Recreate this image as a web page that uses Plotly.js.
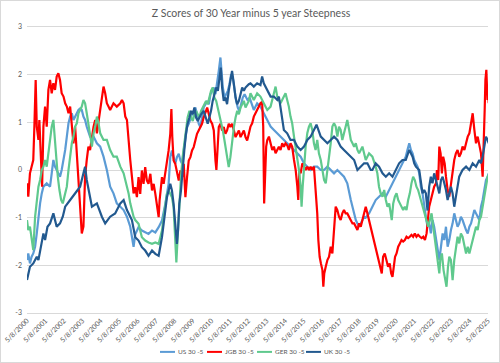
<!DOCTYPE html>
<html>
<head>
<meta charset="utf-8">
<script src="https://cdn.plot.ly/plotly-3.0.1.min.js"></script>
<style>
  html, body { margin: 0; padding: 0; background: #ffffff; }
  #wrap { position: relative; width: 500px; height: 363px; }
  #chart { width: 500px; height: 363px; }
  #frame { position: absolute; left: 0; top: 0; width: 500px; height: 363px;
           box-sizing: border-box; border: 1px solid #d9d9d9; pointer-events: none; }
</style>
</head>
<body>
<div id="wrap">
  <div id="chart"></div>
  <div id="frame"></div>
</div>
<script>
// Z scores of the 30y minus 5y curve steepness, by market (x = decimal year)
const usYears = [2000.35,2000.42,2000.51,2000.60,2000.69,2000.79,2000.88,2000.97,2001.06,2001.15,2001.24,2001.42,2001.60,2001.69,2001.78,2001.87,2001.96,2002.05,2002.14,2002.23,2002.33,2002.42,2002.51,2002.60,2002.69,2002.78,2002.87,2002.96,2003.05,2003.14,2003.23,2003.32,2003.41,2003.50,2003.59,2003.77,2003.96,2004.14,2004.32,2004.50,2004.68,2004.86,2005.04,2005.22,2005.41,2005.59,2005.77,2005.95,2006.04,2006.13,2006.22,2006.40,2006.58,2006.76,2006.94,2007.13,2007.31,2007.49,2007.67,2007.85,2007.94,2008.03,2008.12,2008.21,2008.30,2008.39,2008.48,2008.58,2008.67,2008.76,2008.85,2008.94,2009.03,2009.12,2009.21,2009.30,2009.39,2009.48,2009.57,2009.66,2009.75,2009.84,2009.93,2010.03,2010.12,2010.21,2010.30,2010.39,2010.48,2010.57,2010.66,2010.75,2010.84,2010.89,2010.97,2011.06,2011.15,2011.24,2011.33,2011.42,2011.51,2011.60,2011.69,2011.78,2011.87,2011.96,2012.05,2012.15,2012.24,2012.33,2012.42,2012.65,2012.83,2013.01,2013.19,2013.38,2013.56,2013.74,2013.92,2014.10,2014.28,2014.46,2014.64,2014.83,2015.01,2015.19,2015.37,2015.55,2015.73,2015.91,2016.09,2016.28,2016.46,2016.64,2016.82,2017.00,2017.18,2017.36,2017.54,2017.72,2017.82,2017.91,2018.00,2018.09,2018.18,2018.27,2018.36,2018.45,2018.54,2018.63,2018.72,2018.90,2019.08,2019.26,2019.44,2019.63,2019.81,2019.99,2020.17,2020.35,2020.53,2020.71,2020.89,2020.98,2021.08,2021.17,2021.26,2021.35,2021.44,2021.53,2021.62,2021.71,2021.80,2021.89,2021.98,2022.07,2022.16,2022.25,2022.34,2022.43,2022.53,2022.62,2022.71,2022.80,2022.89,2022.98,2023.07,2023.16,2023.25,2023.34,2023.43,2023.52,2023.61,2023.70,2023.79,2023.88,2023.97,2024.07,2024.16,2024.25,2024.34,2024.43,2024.52,2024.61,2024.70,2024.79,2024.88,2024.97,2025.06,2025.15,2025.24,2025.33,2025.39];
const usValues = [-1.89,-1.75,-1.96,-1.82,-1.75,-1.61,-1.33,-0.98,-0.70,-0.49,-0.35,-0.28,-0.35,-0.07,0.21,0.07,0.00,-0.07,-0.14,0.00,0.21,0.42,0.70,0.98,1.12,1.19,1.05,1.12,1.19,1.26,1.29,1.26,1.12,1.05,0.91,0.70,0.70,0.56,0.49,0.28,0.00,-0.35,-0.49,-0.70,-0.77,-0.84,-0.98,-1.19,-1.40,-1.61,-1.35,-1.20,-1.27,-1.31,-1.34,-1.27,-1.31,-1.20,-1.06,-0.71,-0.50,-0.29,0.27,0.41,0.27,0.13,0.27,0.34,0.20,0.13,0.41,0.69,0.90,0.97,1.10,1.17,1.24,1.31,1.17,0.97,0.90,1.10,1.31,1.38,1.45,1.38,1.59,1.66,1.73,1.59,1.80,2.08,2.36,2.08,1.73,1.52,1.59,1.66,1.80,2.01,1.94,1.66,1.45,1.31,1.24,1.38,1.52,1.59,1.52,1.45,1.52,1.26,1.40,1.33,1.19,1.05,0.91,0.84,0.77,0.70,0.63,0.56,0.49,0.42,0.35,0.28,0.14,0.07,0.00,0.07,0.07,0.00,0.00,0.07,0.00,-0.07,0.00,-0.07,-0.14,-0.28,-0.49,-0.63,-0.77,-0.91,-1.05,-1.12,-1.19,-1.12,-1.05,-0.98,-1.00,-0.91,-0.77,-0.63,-0.56,-0.49,-0.56,-0.42,-0.28,-0.14,0.00,0.14,0.28,0.42,0.56,0.42,0.35,0.21,0.14,0.07,-0.07,-0.35,-0.49,-0.77,-0.98,-1.19,-1.12,-1.33,-1.05,-1.19,-1.47,-1.61,-1.89,-1.61,-1.33,-1.47,-1.19,-1.61,-1.47,-1.26,-1.12,-0.91,-1.05,-1.19,-1.12,-0.98,-1.05,-1.19,-1.26,-1.33,-1.19,-1.12,-0.98,-0.84,-0.91,-0.98,-1.05,-0.77,-0.63,-0.42,-0.21,-0.14,-0.07];

const jgbYears = [2000.35,2000.42,2000.51,2000.60,2000.69,2000.75,2000.82,2000.88,2000.97,2001.02,2001.09,2001.17,2001.24,2001.33,2001.42,2001.51,2001.60,2001.69,2001.78,2001.87,2001.96,2002.05,2002.14,2002.23,2002.33,2002.42,2002.51,2002.60,2002.69,2002.78,2002.87,2002.96,2003.05,2003.14,2003.23,2003.32,2003.41,2003.50,2003.59,2003.68,2003.77,2003.87,2003.96,2004.05,2004.14,2004.32,2004.41,2004.50,2004.59,2004.68,2004.77,2004.86,2005.04,2005.22,2005.41,2005.50,2005.59,2005.68,2005.77,2005.86,2005.95,2006.04,2006.13,2006.22,2006.31,2006.40,2006.49,2006.58,2006.67,2006.76,2006.85,2006.94,2007.04,2007.13,2007.22,2007.31,2007.40,2007.49,2007.54,2007.62,2007.67,2007.76,2007.85,2007.94,2008.03,2008.12,2008.18,2008.23,2008.30,2008.39,2008.48,2008.58,2008.67,2008.76,2008.85,2008.94,2009.03,2009.12,2009.21,2009.30,2009.39,2009.48,2009.57,2009.66,2009.75,2009.84,2009.93,2010.03,2010.12,2010.21,2010.30,2010.39,2010.48,2010.57,2010.62,2010.70,2010.75,2010.84,2010.93,2011.02,2011.11,2011.20,2011.29,2011.38,2011.47,2011.57,2011.66,2011.75,2011.84,2011.93,2012.02,2012.11,2012.20,2012.29,2012.38,2012.47,2012.56,2012.65,2012.74,2012.83,2012.92,2013.01,2013.10,2013.16,2013.21,2013.27,2013.32,2013.38,2013.47,2013.56,2013.65,2013.74,2013.83,2013.92,2014.01,2014.10,2014.19,2014.28,2014.37,2014.46,2014.55,2014.64,2014.73,2014.83,2014.92,2015.01,2015.06,2015.12,2015.19,2015.28,2015.37,2015.46,2015.55,2015.64,2015.73,2015.82,2015.91,2016.00,2016.09,2016.15,2016.22,2016.29,2016.37,2016.42,2016.47,2016.55,2016.64,2016.73,2016.82,2016.91,2017.00,2017.09,2017.18,2017.27,2017.36,2017.45,2017.54,2017.63,2017.72,2017.82,2017.91,2018.00,2018.09,2018.18,2018.27,2018.36,2018.45,2018.54,2018.63,2018.72,2018.81,2018.90,2018.99,2019.08,2019.17,2019.26,2019.35,2019.44,2019.54,2019.59,2019.66,2019.75,2019.84,2019.93,2020.02,2020.10,2020.17,2020.24,2020.31,2020.39,2020.48,2020.57,2020.66,2020.75,2020.84,2020.93,2021.02,2021.11,2021.20,2021.29,2021.38,2021.47,2021.56,2021.66,2021.75,2021.84,2021.93,2022.02,2022.09,2022.16,2022.25,2022.34,2022.43,2022.53,2022.58,2022.65,2022.71,2022.78,2022.85,2022.92,2023.00,2023.07,2023.16,2023.25,2023.34,2023.43,2023.52,2023.61,2023.70,2023.79,2023.88,2023.97,2024.07,2024.16,2024.25,2024.34,2024.43,2024.52,2024.61,2024.70,2024.79,2024.88,2024.97,2025.06,2025.12,2025.17,2025.21,2025.26,2025.32,2025.35,2025.39];
const jgbValues = [-0.28,-0.56,-0.07,0.07,0.21,0.91,1.89,0.91,0.63,1.05,0.35,-0.35,0.91,1.33,0.91,1.68,1.89,1.61,1.82,1.68,1.96,2.03,1.89,1.61,1.54,1.40,1.33,1.19,1.33,0.91,0.56,0.91,0.35,-0.35,-0.91,-1.33,-1.19,-0.14,0.21,0.49,0.42,0.70,0.91,1.05,0.77,1.26,1.54,1.75,1.61,1.40,1.33,1.26,1.40,1.33,1.40,1.47,1.40,1.12,1.05,0.56,0.21,-0.14,-0.49,-0.36,-0.57,-0.15,-0.50,-0.01,-0.29,0.06,-0.22,-0.29,-0.08,-0.43,-0.29,-0.50,-0.71,-0.99,-0.64,-0.36,-0.15,-0.29,-0.08,0.13,0.41,0.76,1.28,0.69,0.20,0.13,-0.01,-0.22,-0.01,-0.15,0.13,-0.57,-0.15,0.20,0.27,0.41,0.48,0.62,0.76,0.83,0.90,0.97,1.10,1.24,1.31,1.17,1.03,0.97,0.83,0.20,0.00,0.55,0.90,0.97,0.83,0.90,0.76,0.83,0.97,0.90,0.97,0.83,0.69,0.76,0.83,0.69,0.76,0.83,0.69,0.62,0.76,0.91,0.98,1.12,1.19,1.26,1.33,1.40,1.43,0.91,-0.70,0.21,0.49,0.63,0.70,0.56,0.42,0.49,0.35,0.42,0.49,0.42,0.56,0.49,0.56,0.52,0.42,0.56,0.49,0.21,0.00,-0.35,-0.63,0.00,-0.07,0.14,0.07,0.00,0.07,0.00,0.07,0.00,0.07,-0.35,-0.91,-1.47,-1.82,-1.96,-2.10,-2.45,-2.17,-2.03,-1.89,-1.82,-1.61,-1.75,-1.19,-0.77,-0.84,-0.98,-1.05,-0.91,-0.84,-0.91,-0.91,-0.98,-1.05,-1.12,-1.12,-1.19,-1.26,-1.12,-1.19,-1.05,-0.91,-0.77,-0.91,-1.05,-1.19,-1.33,-1.47,-1.61,-1.75,-1.89,-2.03,-2.17,-1.82,-1.75,-1.89,-2.03,-1.96,-2.17,-2.24,-1.96,-1.82,-1.75,-1.61,-1.54,-1.47,-1.50,-1.47,-1.40,-1.43,-1.40,-1.36,-1.40,-1.33,-1.40,-1.36,-1.40,-1.43,-1.40,-1.47,-1.33,-1.05,-0.77,-0.63,-0.49,-0.35,-0.28,0.00,-0.21,0.49,0.35,-0.07,0.28,0.14,-0.14,-0.42,-0.56,-0.28,0.00,0.21,0.35,0.42,0.28,0.35,0.49,0.42,0.56,0.70,0.77,0.98,1.19,0.84,0.56,0.70,0.49,0.35,-0.14,0.42,1.26,1.89,2.10,1.47,1.61,1.40];

const gerYears = [2000.35,2000.42,2000.51,2000.60,2000.69,2000.79,2000.88,2000.97,2001.06,2001.15,2001.24,2001.33,2001.42,2001.51,2001.60,2001.69,2001.78,2001.84,2001.93,2002.02,2002.11,2002.20,2002.29,2002.38,2002.51,2002.60,2002.69,2002.78,2002.87,2002.96,2003.05,2003.14,2003.23,2003.32,2003.41,2003.50,2003.59,2003.68,2003.77,2003.87,2003.96,2004.05,2004.14,2004.23,2004.32,2004.50,2004.68,2004.86,2005.04,2005.22,2005.41,2005.59,2005.77,2005.86,2005.95,2006.13,2006.22,2006.40,2006.58,2006.76,2006.94,2007.13,2007.31,2007.49,2007.58,2007.67,2007.76,2007.85,2007.94,2008.03,2008.12,2008.21,2008.30,2008.39,2008.45,2008.52,2008.61,2008.70,2008.79,2008.88,2008.97,2009.06,2009.16,2009.25,2009.34,2009.43,2009.52,2009.61,2009.70,2009.79,2009.88,2009.97,2010.06,2010.15,2010.24,2010.33,2010.42,2010.51,2010.61,2010.70,2010.79,2010.88,2010.97,2011.06,2011.15,2011.24,2011.29,2011.38,2011.47,2011.57,2011.66,2011.75,2011.84,2011.93,2012.02,2012.11,2012.20,2012.29,2012.38,2012.47,2012.65,2012.83,2013.01,2013.19,2013.38,2013.56,2013.74,2013.83,2013.92,2014.10,2014.28,2014.37,2014.46,2014.55,2014.64,2014.73,2014.83,2014.92,2015.01,2015.10,2015.19,2015.24,2015.30,2015.37,2015.46,2015.55,2015.64,2015.73,2015.82,2015.91,2016.00,2016.09,2016.18,2016.28,2016.37,2016.46,2016.55,2016.64,2016.73,2016.82,2016.91,2017.00,2017.09,2017.18,2017.27,2017.36,2017.45,2017.54,2017.63,2017.72,2017.82,2017.91,2018.00,2018.09,2018.18,2018.27,2018.36,2018.45,2018.54,2018.63,2018.72,2018.90,2019.08,2019.26,2019.35,2019.44,2019.53,2019.63,2019.72,2019.81,2019.90,2019.99,2020.08,2020.13,2020.21,2020.30,2020.39,2020.48,2020.57,2020.66,2020.75,2020.84,2020.93,2021.02,2021.11,2021.20,2021.29,2021.38,2021.47,2021.56,2021.66,2021.75,2021.84,2021.93,2022.02,2022.11,2022.20,2022.29,2022.38,2022.47,2022.56,2022.65,2022.71,2022.76,2022.85,2022.94,2023.03,2023.10,2023.18,2023.25,2023.34,2023.43,2023.52,2023.61,2023.70,2023.79,2023.88,2023.97,2024.07,2024.16,2024.25,2024.34,2024.43,2024.52,2024.61,2024.70,2024.79,2024.88,2024.97,2025.06,2025.15,2025.24,2025.33,2025.39];
const gerValues = [-1.05,-1.26,-1.19,-1.47,-1.68,-0.98,-0.63,-0.35,-0.21,0.00,0.07,0.21,0.07,0.35,0.56,0.91,1.05,0.77,0.21,-0.14,-0.42,-0.63,-0.70,-0.56,-0.35,0.00,0.28,0.56,0.70,0.91,0.98,1.19,1.26,1.33,1.47,1.40,1.19,0.98,0.70,0.49,0.77,0.91,1.12,0.98,0.77,0.63,0.63,0.42,0.28,0.28,0.07,-0.07,-0.35,-0.49,-0.70,-0.98,-1.05,-1.13,-1.41,-1.48,-1.52,-1.55,-1.52,-1.55,-1.41,-1.27,-0.99,-0.71,-0.50,-0.43,-0.50,-0.57,-0.78,-1.41,-1.94,-1.41,-0.71,-0.15,0.27,0.55,0.83,1.10,1.24,1.10,1.03,1.17,1.24,1.17,1.10,1.24,1.31,1.38,1.45,1.38,1.52,1.66,1.73,1.52,1.45,1.31,1.17,0.97,0.83,0.62,0.41,0.20,0.06,0.27,0.62,0.90,1.10,1.24,1.17,1.31,1.38,1.45,1.31,1.38,1.45,1.61,1.47,1.61,1.54,1.40,1.26,1.33,1.61,1.75,1.54,1.40,1.54,1.61,1.47,1.33,1.12,0.98,0.70,0.49,0.28,0.00,-0.35,-0.77,-0.35,0.14,0.49,0.77,0.91,0.98,0.84,0.56,0.42,0.63,0.35,0.21,0.00,-0.21,-0.28,0.00,0.21,0.56,0.91,0.98,0.91,0.70,0.91,0.84,0.63,0.77,0.91,1.05,0.84,0.63,0.56,0.49,0.56,0.42,0.35,0.42,0.49,0.35,0.21,0.35,0.28,0.07,-0.07,-0.35,-0.49,-0.56,-0.42,-0.63,-0.77,-0.70,-0.98,-1.05,-0.70,-0.56,-0.49,-0.63,-0.70,-0.77,-0.84,-0.77,-0.84,-0.63,-0.49,-0.28,-0.14,-0.21,-0.35,-0.42,-0.56,-0.63,-0.77,-0.91,-1.05,-1.19,-1.05,-0.91,-1.19,-1.47,-1.75,-2.03,-2.17,-1.89,-1.75,-2.10,-2.31,-2.45,-2.03,-1.82,-1.89,-2.31,-1.89,-1.61,-1.40,-1.54,-1.33,-1.40,-1.61,-1.75,-1.61,-1.75,-1.61,-1.47,-1.33,-1.19,-1.26,-1.05,-0.98,-0.77,-0.49,-0.28,-0.14,-0.10];

const ukYears = [2000.35,2000.51,2000.69,2000.88,2000.97,2001.09,2001.24,2001.33,2001.46,2001.60,2001.78,2001.96,2002.14,2002.29,2002.42,2002.69,2002.96,2003.23,2003.41,2003.50,2003.59,2003.77,2003.87,2004.14,2004.41,2004.59,2004.86,2005.13,2005.41,2005.59,2005.77,2006.04,2006.22,2006.40,2006.58,2006.76,2006.94,2007.13,2007.31,2007.49,2007.58,2007.67,2007.76,2007.85,2007.94,2008.03,2008.12,2008.21,2008.30,2008.39,2008.48,2008.54,2008.61,2008.70,2008.79,2008.88,2008.97,2009.06,2009.16,2009.25,2009.34,2009.43,2009.52,2009.61,2009.70,2009.79,2009.93,2010.06,2010.15,2010.24,2010.33,2010.42,2010.51,2010.61,2010.70,2010.79,2010.86,2010.93,2011.02,2011.11,2011.20,2011.29,2011.38,2011.47,2011.57,2011.66,2011.75,2011.84,2011.93,2012.02,2012.11,2012.20,2012.38,2012.47,2012.65,2012.83,2013.01,2013.10,2013.19,2013.38,2013.56,2013.74,2013.92,2014.01,2014.10,2014.19,2014.28,2014.46,2014.64,2014.83,2015.01,2015.19,2015.37,2015.55,2015.73,2015.91,2016.05,2016.28,2016.46,2016.64,2016.82,2017.00,2017.18,2017.36,2017.54,2017.72,2017.91,2018.09,2018.27,2018.45,2018.63,2018.81,2018.99,2019.08,2019.26,2019.44,2019.63,2019.81,2019.99,2020.17,2020.35,2020.53,2020.71,2020.89,2021.08,2021.17,2021.26,2021.35,2021.44,2021.62,2021.71,2021.80,2021.89,2021.98,2022.07,2022.16,2022.25,2022.34,2022.43,2022.53,2022.62,2022.71,2022.80,2022.89,2022.98,2023.07,2023.16,2023.25,2023.34,2023.43,2023.52,2023.61,2023.70,2023.79,2023.88,2023.97,2024.16,2024.34,2024.52,2024.70,2024.88,2024.97,2025.06,2025.15,2025.24,2025.33,2025.39];
const ukValues = [-2.31,-2.03,-1.96,-1.82,-1.89,-1.61,-1.33,-1.47,-1.19,-1.12,-0.91,-1.19,-1.12,-0.98,-0.77,-0.63,-0.49,-0.35,-0.07,0.07,-0.21,-0.56,-0.77,-0.70,-0.98,-1.12,-0.98,-0.91,-0.70,-0.63,-0.84,-1.05,-1.41,-1.48,-1.62,-1.69,-1.80,-1.69,-1.76,-1.80,-1.62,-1.41,-1.13,-0.85,-0.57,-0.43,-0.29,-0.43,-0.71,-1.13,-1.55,-1.27,-0.71,-0.43,0.06,0.41,0.76,0.97,1.10,1.24,1.17,1.31,1.10,1.03,1.10,1.17,1.24,1.10,0.97,1.10,1.24,1.45,1.59,1.73,1.66,2.01,2.15,1.73,1.45,1.52,1.38,1.66,1.87,2.08,1.80,1.52,1.38,1.45,1.59,1.73,1.66,1.73,1.80,1.82,1.75,1.82,1.78,1.96,1.82,1.68,1.54,1.54,1.47,1.54,1.33,1.05,0.84,0.77,0.63,0.63,0.49,0.42,0.49,0.63,0.70,0.84,0.95,0.70,0.63,0.56,0.63,0.70,0.63,0.49,0.42,0.35,0.28,0.21,0.00,0.07,0.14,0.14,0.00,0.00,0.14,0.07,-0.07,-0.14,-0.07,-0.14,0.00,0.14,0.21,0.21,0.42,0.35,0.28,0.14,0.07,0.00,-0.21,-0.49,-0.42,-0.49,-0.85,-0.35,-0.14,-0.28,-0.07,-0.21,-0.35,-0.49,-0.21,-0.14,-0.28,-0.42,-0.63,-0.49,-0.35,-0.49,-0.77,-0.56,-0.35,-0.14,-0.07,0.00,0.07,0.00,0.14,0.07,0.21,0.14,0.28,0.49,0.70,0.63,0.56];

const seriesNames = ['US 30 -5', 'JGB 30 -5', 'GER 30 -5', 'UK 30 -5'];
const seriesColors = ['#5B9BD5', '#FF0000', '#5FC98D', '#22598F'];

const tickYears = [2000.35,2001.35,2002.35,2003.35,2004.35,2005.35,2006.35,2007.35,2008.35,2009.35,2010.35,2011.35,2012.35,2013.35,2014.35,2015.35,2016.35,2017.35,2018.35,2019.35,2020.35,2021.35,2022.35,2023.35,2024.35,2025.35];
const tickLabels = ['5/8/2000','5/8/2001','5/8/2002','5/8/2003','5/8/2004','5/8/2005','5/8/2006','5/8/2007','5/8/2008','5/8/2009','5/8/2010','5/8/2011','5/8/2012','5/8/2013','5/8/2014','5/8/2015','5/8/2016','5/8/2017','5/8/2018','5/8/2019','5/8/2020','5/8/2021','5/8/2022','5/8/2023','5/8/2024','5/8/2025'];

const xs = [usYears, jgbYears, gerYears, ukYears];
const ys = [usValues, jgbValues, gerValues, ukValues];

const traces = seriesNames.map((name, i) => ({
  type: 'scatter',
  mode: 'lines',
  name: name,
  x: xs[i],
  y: ys[i],
  line: { color: seriesColors[i], width: 2.2 },
  showlegend: false,
  hoverinfo: 'skip'
}));

const FONT = 'Lato, "Open Sans", sans-serif';
const GREY = '#595959';

// legend drawn under the plot: short line sample + label per series
const legendLineX = [[0.2885, 0.3210], [0.3905, 0.4230], [0.4989, 0.5315], [0.6052, 0.6377]];
const legendY = -0.136;
const shapes = legendLineX.map((p, i) => ({
  type: 'line', xref: 'paper', yref: 'paper',
  x0: p[0], x1: p[1], y0: legendY, y1: legendY,
  line: { color: seriesColors[i], width: 2 }
}));
const annotations = legendLineX.map((p, i) => ({
  xref: 'paper', yref: 'paper', x: p[1] + 0.002, y: legendY,
  xanchor: 'left', yanchor: 'middle', showarrow: false,
  text: seriesNames[i], font: { family: FONT, size: 6.5, color: GREY }
}));

const layout = {
  width: 500,
  height: 363,
  margin: { l: 27, r: 12, t: 27, b: 50 },
  paper_bgcolor: '#ffffff',
  plot_bgcolor: '#ffffff',
  font: { family: FONT, color: GREY },
  title: {
    text: 'Z Scores of 30 Year minus 5 year Steepness',
    font: { family: FONT, size: 10.5, color: GREY },
    xref: 'container', yref: 'container',
    x: 0.502, y: 0.964, xanchor: 'center', yanchor: 'middle'
  },
  xaxis: {
    type: 'linear',
    range: [2000.35, 2025.35],
    tickmode: 'array',
    tickvals: tickYears,
    ticktext: tickLabels,
    tickangle: -45,
    tickfont: { family: FONT, size: 7, color: GREY },
    showgrid: false,
    zeroline: false,
    showline: true,
    mirror: true,
    linecolor: '#d9d9d9',
    linewidth: 1,
    ticks: ''
  },
  yaxis: {
    range: [-3, 3],
    tickmode: 'array',
    tickvals: [-3, -2, -1, 0, 1, 2, 3],
    ticktext: ['-3', '-2', '-1', '0', '1', '2', '3'],
    tickfont: { family: FONT, size: 7, color: GREY },
    showgrid: true,
    gridcolor: '#d9d9d9',
    gridwidth: 1,
    zeroline: false,
    showline: false,
    ticks: '',
    ticklabelstandoff: 4
  },
  shapes: shapes,
  annotations: annotations,
  showlegend: false
};

Plotly.newPlot('chart', traces, layout, { displayModeBar: false, staticPlot: true });
</script>
</body>
</html>
